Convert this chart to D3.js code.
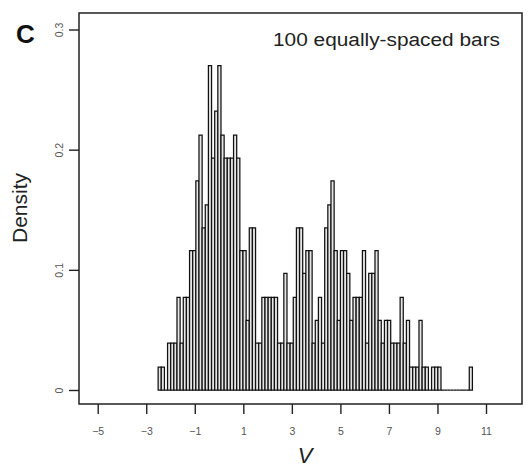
<!DOCTYPE html>
<html><head><meta charset="utf-8">
<script src="https://cdn.jsdelivr.net/npm/d3@7"></script>
<style>body{margin:0;background:#fff}svg{display:block}text{font-family:"Liberation Sans",Arial,sans-serif}</style>
</head><body><svg id="c" width="528" height="467"></svg>
<script>
// ---- data ----
const xTicks = [-5, -3, -1, 1, 3, 5, 7, 9, 11];
const yTicks = [0, 0.1, 0.2, 0.3];
const yTickLabels = ["0", "0.1", "0.2", "0.3"];
const binStart = -2.51;   // left edge of first bar
const binEnd = 10.44;     // right edge of last bar
const density = [
  0.019,0.019,0,0.039,0.039,0.039,0.077,0.039,0.077,0.077,
  0.116,0.116,0.174,0.212,0.135,0.154,0.270,0.193,0.232,0.270,
  0.212,0.193,0.193,0.193,0.212,0.193,0.116,0.116,0.058,0.135,
  0.135,0.039,0.039,0.077,0.077,0.077,0.077,0.077,0.039,0.039,
  0.097,0.039,0.039,0.077,0.135,0.135,0.097,0.116,0.116,0.039,
  0.058,0.077,0.039,0.135,0.154,0.174,0.116,0.058,0.116,0.116,
  0.097,0.058,0.077,0.077,0.077,0.116,0.039,0.097,0.097,0.116,
  0.058,0.039,0.058,0.058,0.039,0.039,0.039,0.077,0.039,0.058,
  0.019,0.019,0.019,0.058,0.019,0.019,0,0.019,0.019,0.019,
  0,0,0,0,0,0,0,0,0,0.019
];
const panelLetter = "C";
const note = "100 equally-spaced bars";
const xLabel = "V";
const yLabel = "Density";

// ---- drawing ----
const svg = d3.select("#c");
const x = d3.scaleLinear().domain([-5, 11]).range([97.7, 486]);
const y = d3.scaleLinear().domain([0, 0.3]).range([390, 29.5]);
const frame = {l: 79, r: 522, t: 13, b: 404};

const edges = d3.range(density.length + 1).map(i => binStart + (binEnd - binStart) * i / density.length);
const bins = density.map((d, i) => ({x0: edges[i], x1: edges[i + 1], d}));

svg.append("g").selectAll("path").data(bins).join("path")
  .attr("d", b => `M${x(b.x0)},${y(0)}V${y(b.d)}H${x(b.x1)}V${y(0)}Z`)
  .attr("fill", "#e6e6e6").attr("stroke", "#111").attr("stroke-width", 1.25);

// frame
svg.append("rect").attr("x", frame.l).attr("y", frame.t)
  .attr("width", frame.r - frame.l).attr("height", frame.b - frame.t)
  .attr("fill", "none").attr("stroke", "#222").attr("stroke-width", 1.5);

// x axis
const gx = svg.append("g").attr("transform", `translate(0,${frame.b})`)
  .call(d3.axisBottom(x).tickValues(xTicks).tickFormat(d3.format("d")).tickSize(10).tickSizeOuter(0).tickPadding(14));
gx.select(".domain").remove();
gx.selectAll("line").attr("stroke", "#222").attr("stroke-width", 1.4);
gx.selectAll("text").attr("font-size", 10.5).attr("fill", "#555").attr("font-family", '"Liberation Sans",Arial,sans-serif');

// y axis
const gy = svg.append("g").attr("transform", `translate(${frame.l},0)`)
  .call(d3.axisLeft(y).tickValues(yTicks).tickFormat((d, i) => yTickLabels[i]).tickSize(10).tickSizeOuter(0));
gy.select(".domain").remove();
gy.selectAll("line").attr("stroke", "#222").attr("stroke-width", 1.4);
gy.selectAll("text").attr("transform", "rotate(-90)").attr("x", 0).attr("y", -16).attr("dy", 0)
  .attr("text-anchor", "middle").attr("font-size", 10.5).attr("fill", "#555")
  .attr("font-family", '"Liberation Sans",Arial,sans-serif');

// labels
svg.append("text").attr("x", 305).attr("y", 463).attr("text-anchor", "middle")
  .attr("font-size", 22).attr("font-style", "italic").attr("fill", "#222").text(xLabel);
svg.append("text").attr("transform", "translate(27,208) rotate(-90)").attr("text-anchor", "middle")
  .attr("font-size", 21).attr("fill", "#222").text(yLabel);
svg.append("text").attr("x", 16).attr("y", 43).attr("font-size", 26).attr("font-weight", "bold")
  .attr("fill", "#111").text(panelLetter);
svg.append("text").attr("x", 273).attr("y", 46).attr("font-size", 18).attr("fill", "#222")
  .attr("textLength", 227).attr("lengthAdjust", "spacingAndGlyphs").text(note);
</script></body></html>
